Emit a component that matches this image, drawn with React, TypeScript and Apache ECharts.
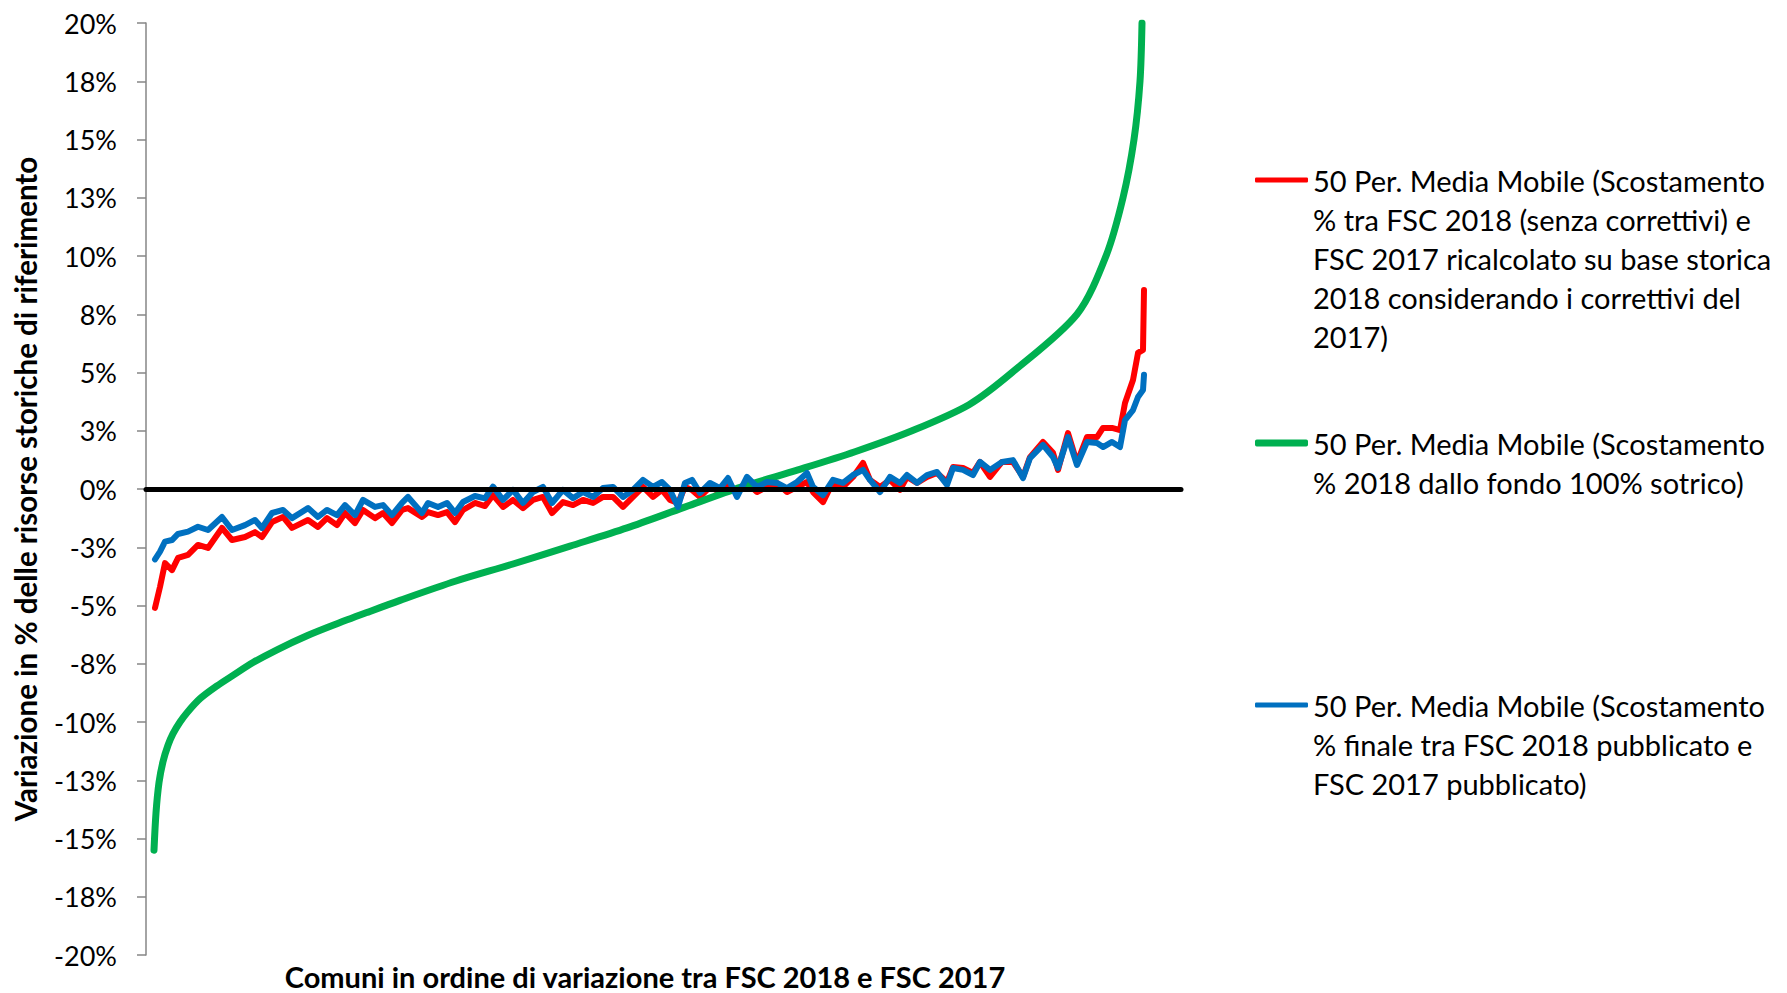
import React, { useEffect, useRef } from 'react';
import * as echarts from 'echarts';

// Rank of commune (ordered by variation) for the red/blue moving averages
const communeRank = [
  72, 112, 152, 208, 256, 336, 416, 496, 608, 688,
  792, 872, 928, 1008, 1096, 1168, 1296, 1376, 1448, 1528,
  1592, 1672, 1736, 1832, 1896, 1968, 2048, 2096, 2208, 2256,
  2336, 2408, 2472, 2536, 2632, 2712, 2776, 2856, 2936, 3016,
  3096, 3176, 3248, 3336, 3416, 3496, 3576, 3656, 3736, 3816,
  3896, 3976, 4056, 4128, 4192, 4256, 4312, 4368, 4432, 4512,
  4592, 4656, 4728, 4808, 4888, 4968, 5048, 5128, 5208, 5288,
  5336, 5416, 5496, 5576, 5656, 5736, 5792, 5872, 5952, 6032,
  6088, 6168, 6248, 6328, 6408, 6456, 6536, 6616, 6672, 6752,
  6848, 6936, 7016, 7072, 7176, 7256, 7296, 7376, 7448, 7528,
  7608, 7656, 7728, 7792, 7832, 7896, 7936, 7976, 7984,
];

const redValues = [
  -5.10, -4.20, -3.18, -3.48, -2.96, -2.83, -2.40, -2.53, -1.67, -2.19,
  -2.06, -1.85, -2.06, -1.42, -1.20, -1.67, -1.33, -1.63, -1.25, -1.55,
  -1.03, -1.46, -0.90, -1.25, -1.03, -1.46, -0.90, -0.82, -1.20, -0.99,
  -1.12, -0.99, -1.42, -0.90, -0.60, -0.73, -0.26, -0.77, -0.47, -0.82,
  -0.47, -0.34, -1.03, -0.56, -0.69, -0.47, -0.60, -0.34, -0.34, -0.77,
  -0.34, 0.09, -0.34, -0.04, -0.47, -0.60, 0.09, -0.04, -0.34, 0.09,
  -0.13, 0.26, -0.17, 0.26, -0.13, 0.09, 0.26, -0.13, 0.09, 0.30,
  -0.13, -0.56, 0.30, 0.09, 0.52, 1.12, 0.39, 0.09, 0.39, -0.04,
  0.52, 0.26, 0.52, 0.69, 0.30, 0.94, 0.90, 0.69, 1.16, 0.52,
  1.16, 1.16, 0.52, 1.37, 2.02, 1.55, 0.82, 2.40, 1.12, 2.23,
  2.23, 2.62, 2.62, 2.53, 3.69, 4.68, 5.84, 5.97, 8.54,
];

const blueValues = [
  -3.02, -2.69, -2.26, -2.19, -1.93, -1.83, -1.62, -1.76, -1.20, -1.76,
  -1.55, -1.33, -1.67, -1.03, -0.90, -1.25, -0.82, -1.20, -0.90, -1.12,
  -0.69, -1.12, -0.47, -0.77, -0.69, -1.12, -0.60, -0.34, -1.03, -0.60,
  -0.77, -0.60, -1.03, -0.56, -0.30, -0.40, 0.10, -0.47, -0.04, -0.60,
  -0.13, 0.09, -0.60, -0.04, -0.39, -0.13, -0.34, 0.04, 0.09, -0.34,
  -0.04, 0.39, 0.09, 0.30, -0.04, -0.77, 0.26, 0.39, -0.17, 0.26,
  0.04, 0.47, -0.34, 0.52, 0.09, 0.30, 0.26, 0.04, 0.30, 0.69,
  0.09, -0.26, 0.39, 0.26, 0.60, 0.82, 0.39, -0.13, 0.52, 0.26,
  0.60, 0.26, 0.60, 0.73, 0.17, 0.90, 0.82, 0.60, 1.16, 0.82,
  1.16, 1.24, 0.47, 1.33, 1.89, 1.37, 0.90, 2.23, 1.03, 2.02,
  1.97, 1.80, 2.02, 1.80, 2.96, 3.39, 3.95, 4.25, 4.90,
];

const greenRank = [
  64, 80, 104, 136, 176, 216, 272, 328, 432, 568,
  696, 856, 1048, 1288, 1496, 1768, 2032, 2480, 2936, 3392,
  3848, 4304, 4760, 5216, 5672, 6128, 6584, 6928, 7448, 7680,
  7816, 7904, 7952, 7968,
];

const greenValues = [
  -15.5, -13.9, -12.6, -11.7, -11.0, -10.5, -10.0, -9.6, -9.0, -8.45,
  -8.0, -7.45, -6.9, -6.3, -5.85, -5.3, -4.78, -3.95, -3.22, -2.45,
  -1.67, -0.79, 0.08, 0.82, 1.6, 2.5, 3.62, 5.0, 7.5, 10.0,
  12.5, 15.0, 17.5, 20.0,
];

const redLegendLines = [
  '50 Per. Media Mobile (Scostamento',
  '% tra FSC 2018 (senza correttivi) e',
  'FSC 2017 ricalcolato su base storica',
  '2018 considerando i correttivi del',
  '2017)',
];
const greenLegendLines = [
  '50 Per. Media Mobile (Scostamento',
  '% 2018 dallo fondo 100% sotrico)',
];
const blueLegendLines = [
  '50 Per. Media Mobile (Scostamento',
  '% finale tra FSC 2018 pubblicato e',
  'FSC 2017 pubblicato)',
];

const NAME_RED = redLegendLines.join(' ');
const NAME_GREEN = greenLegendLines.join(' ');
const NAME_BLUE = blueLegendLines.join(' ');

const yTitle = 'Variazione in % delle risorse storiche di riferimento';
const xTitle = 'Comuni in ordine di variazione tra FSC 2018 e FSC 2017';

const FONT = 'Lato';
const LEGEND_LH = 39;

function pairs(xs: number[], ys: number[]) {
  return xs.map((x, i) => [x, ys[i]]);
}

function makeLegend(name: string, lines: string[], color: string, firstLineY: number, thick: number) {
  const n = lines.length;
  // leading empty lines so that the first real line is centred on the icon
  const text = '\n'.repeat(n - 1) + lines.join('\n');
  return {
    data: [name],
    left: 1255,
    top: firstLineY - (n - 1) * LEGEND_LH - LEGEND_LH / 2,
    orient: 'vertical',
    padding: 0,
    icon: 'roundRect',
    itemWidth: 53,
    itemHeight: thick,
    selectedMode: false,
    itemStyle: { color },
    formatter: () => text,
    textStyle: {
      fontFamily: FONT,
      fontSize: 29,
      color: '#000',
      lineHeight: LEGEND_LH,
    },
  };
}

export default function App() {
  const ref = useRef<HTMLDivElement>(null);

  useEffect(() => {
    if (!ref.current) return;
    const chart = echarts.init(ref.current, undefined, { renderer: 'svg' });
    chart.setOption({
      animation: false,
      backgroundColor: '#fff',
      grid: { left: 146, top: 23, right: 606, bottom: 38, containLabel: false },
      xAxis: {
        type: 'value',
        min: 0,
        max: 8280,
        z: 10,
        axisLine: { show: true, onZero: true, lineStyle: { color: '#000', width: 5 } },
        axisTick: { show: false },
        axisLabel: { show: false },
        splitLine: { show: false },
      },
      yAxis: {
        type: 'value',
        min: -20,
        max: 20,
        interval: 2.5,
        axisLine: { show: true, onZero: false, lineStyle: { color: '#868686', width: 1.5 } },
        axisTick: { show: true, length: 9, lineStyle: { color: '#868686', width: 1.5 } },
        axisLabel: {
          fontFamily: FONT,
          fontSize: 27,
          color: '#000',
          margin: 29,
          formatter: (v: number) => (v < 0 ? '-' : '') + Math.round(Math.abs(v)) + '%',
        },
        splitLine: { show: false },
        name: yTitle,
        nameLocation: 'middle',
        nameGap: 106,
        nameTextStyle: { fontFamily: FONT, fontSize: 29.5, fontWeight: 'bold', color: '#000' },
      },
      legend: [
        makeLegend(NAME_RED, redLegendLines, '#FF0000', 180, 5),
        makeLegend(NAME_GREEN, greenLegendLines, '#00B050', 443, 7),
        makeLegend(NAME_BLUE, blueLegendLines, '#0070C0', 705, 5),
      ],
      graphic: [
        {
          type: 'text',
          x: 645,
          y: 976,
          style: {
            text: xTitle,
            fontFamily: FONT,
            fontSize: 29,
            fontWeight: 'bold',
            fill: '#000',
            align: 'center',
            verticalAlign: 'middle',
          },
        },
      ],
      series: [
        {
          name: NAME_RED,
          type: 'line',
          data: pairs(communeRank, redValues),
          symbol: 'none',
          lineStyle: { color: '#FF0000', width: 6, cap: 'round', join: 'round' },
          itemStyle: { color: '#FF0000' },
        },
        {
          name: NAME_GREEN,
          type: 'line',
          data: pairs(greenRank, greenValues),
          symbol: 'none',
          smooth: 0.3,
          lineStyle: { color: '#00B050', width: 7, cap: 'round', join: 'round' },
          itemStyle: { color: '#00B050' },
        },
        {
          name: NAME_BLUE,
          type: 'line',
          data: pairs(communeRank, blueValues),
          symbol: 'none',
          lineStyle: { color: '#0070C0', width: 6, cap: 'round', join: 'round' },
          itemStyle: { color: '#0070C0' },
        },
      ],
    });
    return () => chart.dispose();
  }, []);

  return (
    <div
      ref={ref}
      style={{ position: 'fixed', left: 0, top: 0, width: 1787, height: 993, background: '#fff' }}
    />
  );
}
